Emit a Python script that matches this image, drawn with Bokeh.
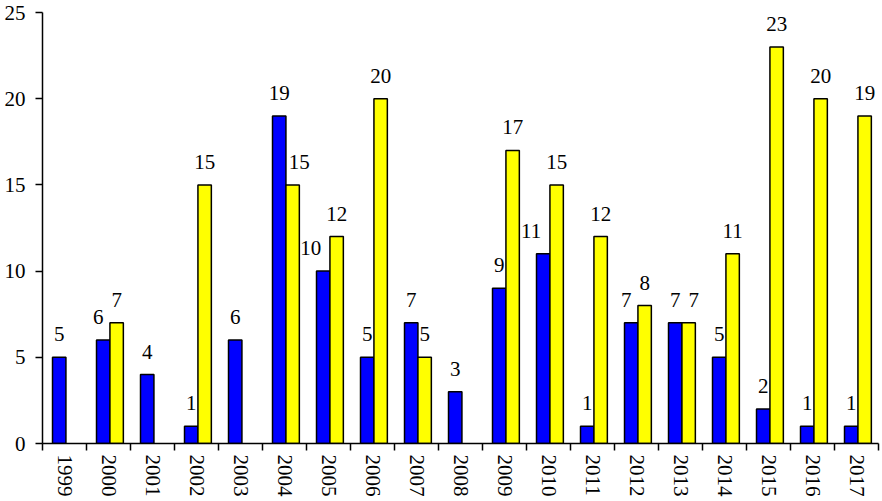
from bokeh.plotting import figure
from bokeh.models import Range1d, FixedTicker, CustomJSTickFormatter, ColumnDataSource
from bokeh.core.properties import value
from bokeh.embed import file_html
from bokeh.resources import INLINE

years = [1999, 2000, 2001, 2002, 2003, 2004, 2005, 2006, 2007, 2008,
         2009, 2010, 2011, 2012, 2013, 2014, 2015, 2016, 2017]
blue_vals = [5, 6, 4, 1, 6, 19, 10, 5, 7, 3, 9, 11, 1, 7, 7, 5, 2, 1, 1]
yellow_vals = [None, 7, None, 15, None, 15, 12, 20, 5, None,
               17, 15, 12, 8, 7, 11, 23, 20, 19]
y_ticks = [0, 5, 10, 15, 20, 25]

FONT = "Liberation Serif"
BLUE_OFF, YELLOW_OFF, BAR_W = -0.12, 0.185, 0.305

p = figure(width=882, height=501, output_backend="svg", toolbar_location=None,
           x_range=Range1d(0, len(years)), y_range=Range1d(0, 25),
           min_border_left=42, min_border_right=4, min_border_top=12,
           min_border_bottom=58)
p.outline_line_color = None
p.xgrid.visible = False
p.ygrid.visible = False
p.background_fill_color = "white"

# bars
bx, bt = [], []
for i, v in enumerate(blue_vals):
    if v is not None:
        bx.append(i + 0.5 + BLUE_OFF); bt.append(v)
yx, yt = [], []
for i, v in enumerate(yellow_vals):
    if v is not None:
        yx.append(i + 0.5 + YELLOW_OFF); yt.append(v)

p.vbar(x=bx, top=bt, bottom=0, width=BAR_W, fill_color="#0000FF",
       line_color="black", line_width=1.5)
p.vbar(x=yx, top=yt, bottom=0, width=BAR_W, fill_color="#FFFF00",
       line_color="black", line_width=1.5)

# labels with simple overlap avoidance
groups = {"center": ([], [], [], []), "left": ([], [], [], []), "right": ([], [], [], [])}
LABEL_RISE = 1.75  # label height (value units) above the bar top
for i in range(len(years)):
    b, y = blue_vals[i], yellow_vals[i]
    for own, other, is_blue in ((b, y, True), (y, b, False)):
        if own is None:
            continue
        x = i + 0.5 + (BLUE_OFF if is_blue else YELLOW_OFF)
        align, dx = "center", 0
        if other is not None:
            if own < other and own >= 10 and own + LABEL_RISE < other:
                align, dx = ("right", -2) if is_blue else ("left", -4)
            elif own == other and not is_blue:
                dx = 5
            elif is_blue and own < other and other - own <= 1:
                dx = -5
        g = groups[align]
        g[0].append(x); g[1].append(own); g[2].append(str(own)); g[3].append(dx)

for align, (xs, ys, ts, dxs) in groups.items():
    if not xs:
        continue
    src = ColumnDataSource(dict(x=xs, y=ys, t=ts, dx=dxs))
    p.text(x="x", y="y", text="t", x_offset="dx", y_offset=-23, source=src,
           text_align=align, text_baseline="alphabetic",
           text_font=value(FONT), text_font_size="21px", text_color="black")

# x axis: labels at category centers, ticks at boundaries
xa = p.xaxis[0]
xa.ticker = FixedTicker(ticks=[i + 0.5 for i in range(len(years))],
                        minor_ticks=list(range(len(years) + 1)))
xa.formatter = CustomJSTickFormatter(args=dict(labels=[str(y) for y in years]),
                                     code="return labels[Math.floor(tick)];")
xa.major_tick_out = 0
xa.major_tick_in = 0
xa.minor_tick_out = 7
xa.minor_tick_in = 0
xa.minor_tick_line_width = 1.5
xa.minor_tick_line_color = "black"
xa.major_label_orientation = "vertical"
xa.major_label_standoff = 4
xa.major_label_text_font = FONT
xa.major_label_text_font_size = "21px"
xa.major_label_text_color = "black"
xa.axis_line_width = 1.5
xa.axis_line_color = "black"

ya = p.yaxis[0]
ya.ticker = FixedTicker(ticks=y_ticks, minor_ticks=[])
ya.major_tick_out = 7
ya.major_tick_in = 0
ya.major_tick_line_width = 1.5
ya.major_tick_line_color = "black"
ya.minor_tick_out = 0
ya.minor_tick_in = 0
ya.major_label_standoff = 10
ya.major_label_text_font = FONT
ya.major_label_text_font_size = "21px"
ya.major_label_text_line_height = 1.0
ya.major_label_text_color = "black"
ya.axis_line_width = 1.5
ya.axis_line_color = "black"

open("out.html", "w").write(file_html(p, INLINE))
